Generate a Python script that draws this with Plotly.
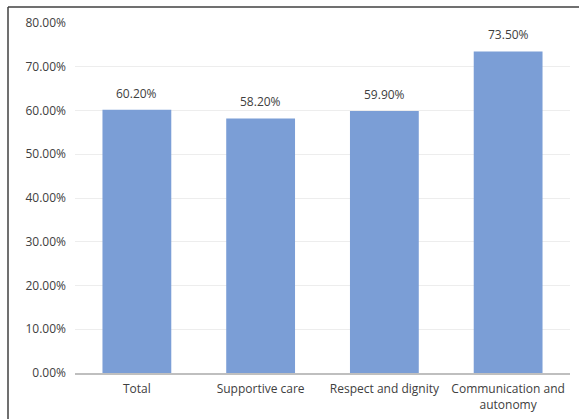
import plotly.graph_objects as go

categories = ["Total", "Supportive care", "Respect and dignity", "Communication and<br>autonomy"]
values = [60.2, 58.2, 59.9, 73.5]
tick_vals = [0, 10, 20, 30, 40, 50, 60, 70, 80]
tick_text = [f"{v:.2f}%" for v in tick_vals]

W, H = 579, 419
L, R, T, B = 75, 9, 23, 46
pw, ph = W - L - R, H - T - B

fig = go.Figure(go.Bar(
    x=categories, y=values,
    marker=dict(color="#7B9ED6", line=dict(width=0)),
    width=0.556,
    hoverinfo="skip",
))

for c, v in zip(categories, values):
    fig.add_annotation(x=c, y=v, text=f"{v:.2f}%", showarrow=False,
                       yanchor="bottom", yshift=6,
                       font=dict(size=12, color="#404040"))

font = "Open Sans, Liberation Sans, sans-serif"
fig.update_layout(
    width=W, height=H,
    margin=dict(l=L, r=R, t=T, b=B, autoexpand=False),
    paper_bgcolor="white", plot_bgcolor="white",
    font=dict(family=font, size=12, color="#404040"),
    showlegend=False,
    xaxis=dict(showline=True, linecolor="#BFBFBF", linewidth=1.5, ticks="",
               ticklabelstandoff=4, automargin=False,
               tickfont=dict(size=12, color="#404040")),
    yaxis=dict(range=[0, 80], tickvals=tick_vals, ticktext=tick_text,
               showgrid=True, gridcolor="#EDEDED", gridwidth=1,
               zeroline=False, showline=False, ticks="",
               ticklabelstandoff=8, automargin=False,
               tickfont=dict(size=12, color="#404040")),
    shapes=[
        dict(type="line", xref="paper", yref="paper",
             x0=(8 - L) / pw, x1=(8 - L) / pw, y0=(H - B - 7) / ph, y1=(H - B - 430) / ph,
             line=dict(color="#404040", width=1.5)),
        dict(type="line", xref="paper", yref="paper",
             x0=(8 - L) / pw, x1=(590 - L) / pw, y0=(H - B - 7) / ph, y1=(H - B - 7) / ph,
             line=dict(color="#404040", width=1.5)),
    ],
)
fig.write_html("out.html")
